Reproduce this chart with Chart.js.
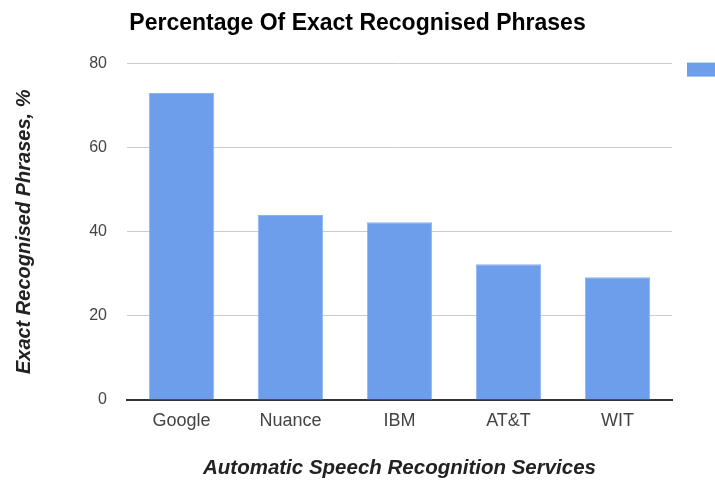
<!DOCTYPE html>
<html>
<head>
<meta charset="utf-8">
<script src="https://cdn.jsdelivr.net/npm/chart.js@4/dist/chart.umd.min.js"></script>
<style>
html,body{margin:0;padding:0;background:#fff;}
#wrap{width:715px;height:484px;}
</style>
</head>
<body>
<div id="wrap"><canvas id="c" width="715" height="484"></canvas></div>
<script>
const categories = ["Google", "Nuance", "IBM", "AT&T", "WIT"];
const values = [73.0, 44.0, 42.3, 32.3, 29.2];
const yTicks = [0, 20, 40, 60, 80];
const titleText = "Percentage Of Exact Recognised Phrases";
const xTitle = "Automatic Speech Recognition Services";
const yTitle = "Exact Recognised Phrases, %";

const FONT = "'Liberation Sans', Arial, sans-serif";
const BAR = "#6d9eeb";

const legendStub = {
  id: 'legendStub',
  afterDraw(chart) {
    const ctx = chart.ctx;
    const a = chart.chartArea;
    ctx.save();
    ctx.fillStyle = BAR;
    ctx.fillRect(a.right + 15, a.top - 1, 40, 14);
    ctx.restore();
  }
};

new Chart(document.getElementById('c'), {
  type: 'bar',
  data: {
    labels: categories,
    datasets: [{
      label: '',
      data: values,
      backgroundColor: BAR,
      borderColor: '#8ab2f0',
      borderWidth: 1,
      categoryPercentage: 1.0,
      barPercentage: 0.6
    }]
  },
  options: {
    responsive: false,
    animation: false,
    devicePixelRatio: 1,
    layout: { padding: { left: 0, right: 0, top: 0, bottom: 0 } },
    plugins: {
      legend: { display: false },
      tooltip: { enabled: false },
      title: {
        display: true,
        text: titleText,
        color: '#000',
        font: { family: FONT, size: 23, weight: 'bold' },
        padding: { top: 10, bottom: 26 }
      }
    },
    scales: {
      x: {
        grid: { display: false, drawTicks: false },
        border: { display: true, color: '#333', width: 2 },
        ticks: { color: '#444', font: { family: FONT, size: 18 }, padding: 10 },
        title: {
          display: true, text: xTitle, color: '#222',
          font: { family: FONT, size: 20.5, weight: 'bold', style: 'italic' },
          padding: { top: 0, bottom: 3 }
        },
        afterFit(s) { s.height = 84; }
      },
      y: {
        min: 0, max: 80,
        afterBuildTicks(s) { s.ticks = yTicks.map(v => ({ value: v })); },
        grid: { color: '#cccccc', lineWidth: 1, drawTicks: false },
        border: { display: false },
        ticks: { color: '#444', font: { family: FONT, size: 16 }, padding: 20 },
        title: {
          display: true, text: yTitle, color: '#222',
          font: { family: FONT, size: 20, weight: 'bold', style: 'italic' },
          padding: { top: 12, bottom: 0 }
        },
        afterFit(s) { s.width = 127; }
      },
      yr: {
        position: 'right',
        display: true,
        grid: { display: false, drawTicks: false },
        border: { display: false },
        ticks: { display: false },
        afterFit(s) { s.width = 43; }
      }
    }
  },
  plugins: [legendStub]
});
</script>
</body>
</html>
